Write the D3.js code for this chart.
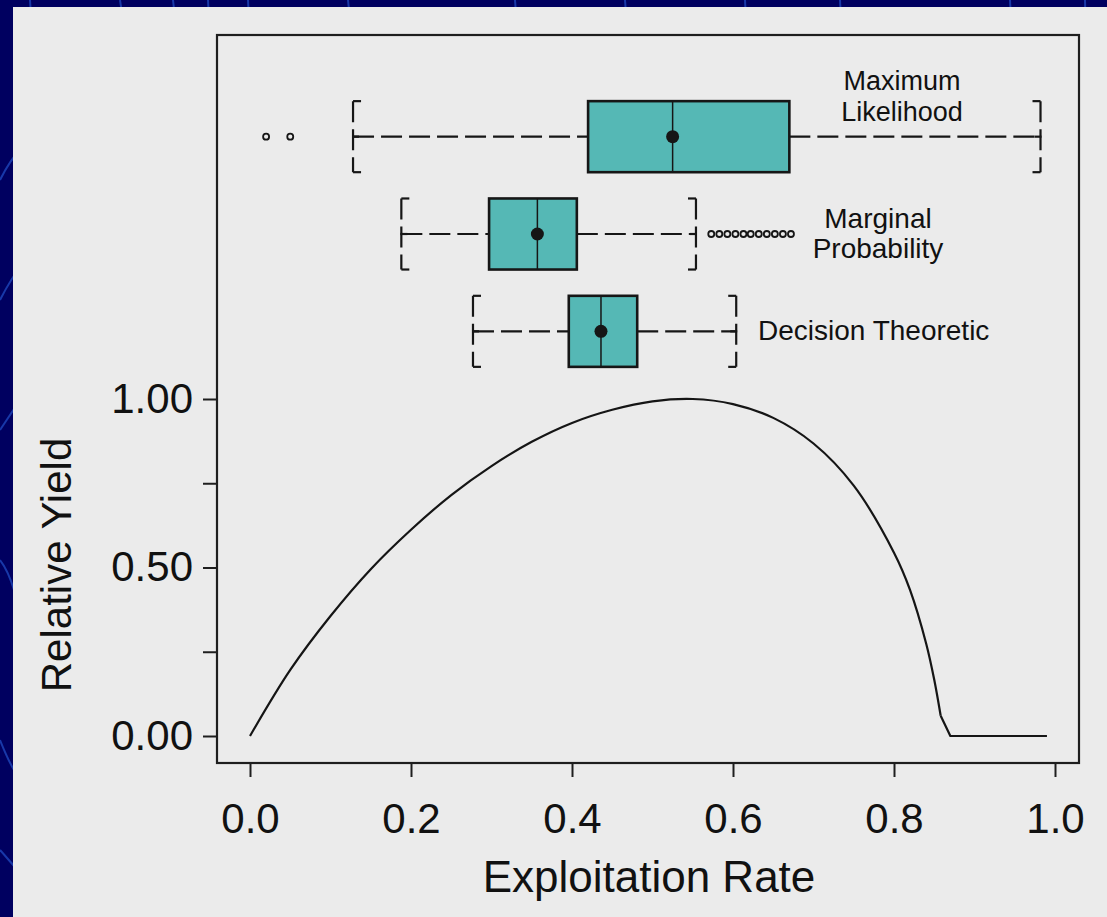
<!DOCTYPE html>
<html>
<head>
<meta charset="utf-8">
<script src="https://cdn.jsdelivr.net/npm/d3@7"></script>
<style>
  html, body { margin: 0; padding: 0; background: #000060; }
  svg { display: block; }
  text { font-family: "Liberation Sans", Arial, Helvetica, sans-serif; fill: #111; }
</style>
</head>
<body>
<svg id="chart" width="1107" height="917"></svg>
<script>
// ---- data ---------------------------------------------------------------
// yield curve: relative yield against exploitation rate
const curveRate  = [0, 0.05, 0.10, 0.15, 0.20, 0.25, 0.30, 0.35, 0.40, 0.45, 0.50, 0.55, 0.60, 0.65, 0.70, 0.75, 0.80, 0.82, 0.84, 0.85, 0.858, 0.870, 0.990];
const curveYield = [0, 0.196, 0.356, 0.495, 0.612, 0.715, 0.801, 0.873, 0.929, 0.968, 0.993, 1.000, 0.985, 0.944, 0.868, 0.743, 0.544, 0.433, 0.274, 0.167, 0.060, 0, 0];
// the yield collapses to zero past this rate
const collapseRate = 0.858;

// estimated exploitation rate, one box per estimation method
const methods     = ["Maximum Likelihood", "Marginal Probability", "Decision Theoretic"];
const methodLines = [["Maximum", "Likelihood"], ["Marginal", "Probability"], ["Decision Theoretic"]];
const whiskerLow  = [0.128, 0.188, 0.277];
const quart1      = [0.420, 0.297, 0.396];
const medians     = [0.525, 0.357, 0.436];
const quart3      = [0.670, 0.406, 0.481];
const whiskerHigh = [0.982, 0.554, 0.604];
const means       = [0.525, 0.357, 0.436];
const outliers    = [
  [0.020, 0.050],
  [0.573, 0.583, 0.593, 0.603, 0.613, 0.622, 0.632, 0.642, 0.652, 0.662, 0.672],
  []
];

const xTicks = [0, 0.2, 0.4, 0.6, 0.8, 1.0];
const xTickLabels = ["0.0", "0.2", "0.4", "0.6", "0.8", "1.0"];
const yTicks = [0, 0.25, 0.5, 0.75, 1.0];
const yTickLabels = ["0.00", "", "0.50", "", "1.00"];

// ---- layout -------------------------------------------------------------
const svg = d3.select("#chart");
const frame = { left: 217, top: 35, right: 1079, bottom: 763 };

const x = d3.scaleLinear().domain([0, 1]).range([250, 1055]);
const y = d3.scaleLinear().domain([0, 1]).range([736, 399]);
const row = d3.scaleBand().domain(methods).range([88, 380]).paddingInner(0.27).paddingOuter(0.135);

// backdrop
svg.append("rect").attr("width", 1107).attr("height", 917).attr("fill", "#000060");
const deco = svg.append("g").attr("fill", "none").attr("stroke", "#2350c8").attr("stroke-width", 2).attr("opacity", 0.7);
[
  "M30,0 Q32,40 36,80", "M120,0 Q124,30 130,60", "M173,0 Q176,30 180,60", "M208,0 L210,40",
  "M248,0 L250,40", "M348,0 L352,40", "M515,0 L518,40", "M625,0 L628,40", "M745,0 L747,40",
  "M840,0 L842,40", "M1010,0 L1012,40", "M1085,0 L1086,40",
  "M0,180 Q10,160 20,150", "M0,300 Q10,280 25,260", "M0,430 L20,400", "M0,560 Q8,570 14,590",
  "M0,740 Q8,760 14,770", "M0,850 L14,866"
].forEach(d => deco.append("path").attr("d", d));

svg.append("rect").attr("x", 13).attr("y", 7).attr("width", 1094).attr("height", 910).attr("fill", "#ebebeb");

// plot frame
svg.append("rect")
  .attr("x", frame.left).attr("y", frame.top)
  .attr("width", frame.right - frame.left).attr("height", frame.bottom - frame.top)
  .attr("fill", "none").attr("stroke", "#1e1e1e").attr("stroke-width", 2.2);

// axes
const xAxis = svg.append("g").attr("transform", `translate(0,${frame.bottom})`)
  .call(d3.axisBottom(x).tickValues(xTicks).tickFormat((d, i) => xTickLabels[i]).tickSize(14).tickPadding(26));
const yAxis = svg.append("g").attr("transform", `translate(${frame.left},0)`)
  .call(d3.axisLeft(y).tickValues(yTicks).tickFormat((d, i) => yTickLabels[i]).tickSize(14).tickPadding(10));
[xAxis, yAxis].forEach(a => {
  a.select(".domain").remove();
  a.selectAll(".tick line").attr("stroke", "#1e1e1e").attr("stroke-width", 2);
  a.selectAll(".tick text").attr("font-size", 42).attr("fill", "#111")
    .attr("font-family", "\"Liberation Sans\", Arial, sans-serif");
});

svg.append("text").attr("x", 649).attr("y", 892)
  .attr("text-anchor", "middle").attr("font-size", 44).text("Exploitation Rate");
svg.append("text").attr("transform", "translate(71,565) rotate(-90)")
  .attr("text-anchor", "middle").attr("font-size", 42).text("Relative Yield");

// yield curve: smooth rise and fall, then a straight drop onto zero
const curve = curveRate.map((r, i) => [r, curveYield[i]]);
const smoothPart = curve.filter(d => d[0] <= collapseRate);
const tailPart = curve.filter(d => d[0] >= collapseRate);
const lineStyle = p => p.attr("fill", "none").attr("stroke", "#151515").attr("stroke-width", 2.2)
  .attr("stroke-linejoin", "round");
svg.append("path").datum(smoothPart)
  .attr("d", d3.line().x(d => x(d[0])).y(d => y(d[1])).curve(d3.curveCatmullRom.alpha(0.5)))
  .call(lineStyle);
svg.append("path").datum(tailPart)
  .attr("d", d3.line().x(d => x(d[0])).y(d => y(d[1])))
  .call(lineStyle);

// box plots
const ink = "#161616";
const dash = "21,7";
const labelPos = [
  { anchor: "middle", dx: 902, dy: [-47, -16], size: 27 },
  { anchor: "middle", dx: 878, dy: [-6, 24], size: 28 },
  { anchor: "start",  dx: 758, dy: [9], size: 28 }
];

methods.forEach((m, i) => {
  const top = row(m), h = row.bandwidth(), bot = top + h, cy = top + h / 2;
  const g = svg.append("g");

  // whiskers, drawn left to right
  g.append("line").attr("x1", x(whiskerLow[i])).attr("x2", x(quart1[i])).attr("y1", cy).attr("y2", cy)
    .attr("stroke", ink).attr("stroke-width", 2.2).attr("stroke-dasharray", dash);
  g.append("line").attr("x1", x(quart3[i])).attr("x2", x(whiskerHigh[i])).attr("y1", cy).attr("y2", cy)
    .attr("stroke", ink).attr("stroke-width", 2.2).attr("stroke-dasharray", dash);

  // bracket-shaped caps
  [[whiskerLow[i], 1], [whiskerHigh[i], -1]].forEach(([v, dir]) => {
    const cx = x(v);
    g.append("line").attr("x1", cx).attr("x2", cx).attr("y1", top).attr("y2", bot)
      .attr("stroke", ink).attr("stroke-width", 2.2).attr("stroke-dasharray", dash);
    g.append("line").attr("x1", cx).attr("x2", cx + dir * 8).attr("y1", top).attr("y2", top)
      .attr("stroke", ink).attr("stroke-width", 2.2);
    g.append("line").attr("x1", cx).attr("x2", cx + dir * 8).attr("y1", bot).attr("y2", bot)
      .attr("stroke", ink).attr("stroke-width", 2.2);
    g.append("line").attr("x1", cx - dir * 1).attr("x2", cx + dir * 6).attr("y1", cy).attr("y2", cy)
      .attr("stroke", ink).attr("stroke-width", 2.2);
  });

  // box
  g.append("rect").attr("x", x(quart1[i])).attr("y", top)
    .attr("width", x(quart3[i]) - x(quart1[i])).attr("height", h)
    .attr("fill", "#55b8b5").attr("stroke", ink).attr("stroke-width", 2.6);
  g.append("line").attr("x1", x(medians[i])).attr("x2", x(medians[i])).attr("y1", top).attr("y2", bot)
    .attr("stroke", ink).attr("stroke-width", 1.5);
  g.append("circle").attr("cx", x(means[i])).attr("cy", cy).attr("r", 6.5).attr("fill", ink);

  // outliers
  g.selectAll("circle.out").data(outliers[i]).enter().append("circle").attr("class", "out")
    .attr("cx", d => x(d)).attr("cy", cy).attr("r", 3)
    .attr("fill", "none").attr("stroke", ink).attr("stroke-width", 1.8);

  // method label
  const lp = labelPos[i];
  methodLines[i].forEach((t, k) => {
    g.append("text").attr("x", lp.dx).attr("y", cy + lp.dy[k])
      .attr("text-anchor", lp.anchor).attr("font-size", lp.size).text(t);
  });
});
</script>
</body>
</html>
